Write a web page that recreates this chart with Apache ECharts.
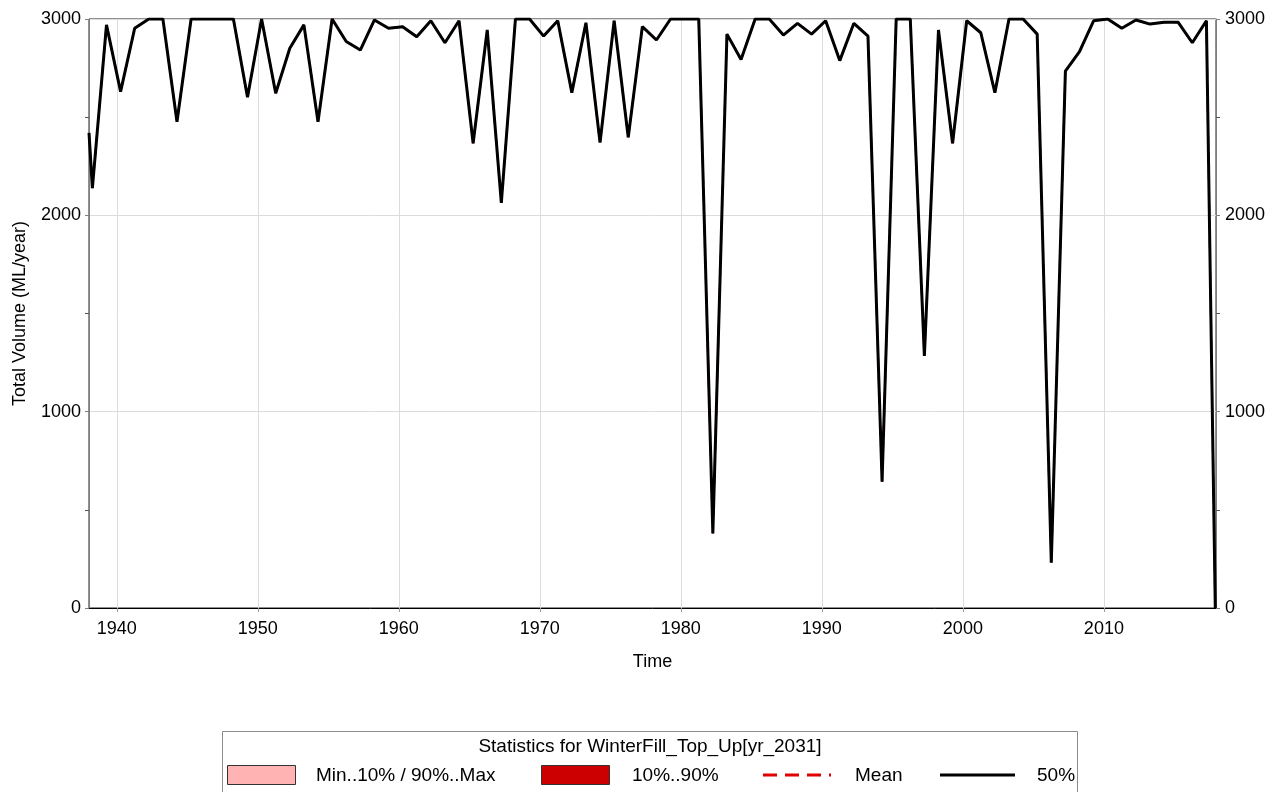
<!DOCTYPE html>
<html>
<head>
<meta charset="utf-8">
<title>WinterFill_Top_Up</title>
<script src="https://cdn.jsdelivr.net/npm/echarts@6/dist/echarts.min.js"></script>
<style>
  html, body { margin: 0; padding: 0; background: #fff; }
  #chart { width: 1279px; height: 792px; }
</style>
</head>
<body>
<div id="chart"></div>
<script>
// Annual totals, one value per year (ML/year)
const years = [
  1938, 1939, 1940, 1941, 1942, 1943, 1944, 1945, 1946, 1947,
  1948, 1949, 1950, 1951, 1952, 1953, 1954, 1955, 1956, 1957,
  1958, 1959, 1960, 1961, 1962, 1963, 1964, 1965, 1966, 1967,
  1968, 1969, 1970, 1971, 1972, 1973, 1974, 1975, 1976, 1977,
  1978, 1979, 1980, 1981, 1982, 1983, 1984, 1985, 1986, 1987,
  1988, 1989, 1990, 1991, 1992, 1993, 1994, 1995, 1996, 1997,
  1998, 1999, 2000, 2001, 2002, 2003, 2004, 2005, 2006, 2007,
  2008, 2009, 2010, 2011, 2012, 2013, 2014, 2015, 2016, 2017
];
const median50 = [
  2138, 2970, 2630, 2953, 3000, 3000, 2477, 3000, 3000, 3000,
  3000, 2601, 3000, 2622, 2851, 2970, 2477, 3000, 2885, 2842,
  2995, 2953, 2961, 2910, 2991, 2879, 2991, 2367, 2944, 2064,
  3000, 3000, 2913, 2991, 2625, 2981, 2370, 2991, 2397, 2961,
  2893, 3000, 3000, 3000, 380, 2923, 2794, 3000, 3000, 2918,
  2978, 2923, 2991, 2788, 2978, 2913, 643, 3000, 3000, 1284,
  2944, 2367, 2991, 2930, 2625, 3000, 3000, 2923, 231, 2735,
  2834, 2991, 3000, 2953, 2995, 2974, 2983, 2983, 2879, 2991
];
// series start / end values (partial years at either end)
const startPoint = [1938.03, 2420];
const endPoint = [2017.9, 0];

const decadeTicks = [1940, 1950, 1960, 1970, 1980, 1990, 2000, 2010];

// each annual total is stamped in early April of its year
const SAMPLE_OFFSET = 0.27;

const lineData = [startPoint]
  .concat(years.map((y, i) => [y + SAMPLE_OFFSET, median50[i]]))
  .concat([endPoint]);

const FONT = '"Liberation Sans", Arial, sans-serif';
const plain = v => String(v);

const chart = echarts.init(document.getElementById('chart'), null, { renderer: 'canvas' });

const yAxisCommon = {
  type: 'value',
  min: 0,
  max: 3000,
  interval: 1000,
  axisLine: { show: true, lineStyle: { color: '#7f7f7f', width: 1 } },
  axisTick: { show: true, length: 4, lineStyle: { color: '#7f7f7f' } },
  minorTick: { show: true, splitNumber: 2, length: 4, lineStyle: { color: '#555' } },
  axisLabel: { color: '#000', fontSize: 18, fontFamily: FONT, formatter: plain }
};

const option = {
  animation: false,
  backgroundColor: '#ffffff',
  grid: {
    left: 89, right: 63, top: 19, bottom: 184,
    show: true, borderColor: '#222', borderWidth: 1, backgroundColor: 'transparent'
  },
  xAxis: {
    type: 'value',
    min: 1938.03,
    max: 2017.95,
    name: 'Time',
    nameLocation: 'middle',
    nameGap: 45,
    nameTextStyle: { color: '#000', fontSize: 18, fontFamily: FONT },
    axisLine: { show: true, onZero: false, lineStyle: { color: '#000', width: 1 } },
    axisTick: { show: true, length: 4, customValues: decadeTicks, lineStyle: { color: '#999' } },
    axisLabel: { customValues: decadeTicks, color: '#000', fontSize: 18, fontFamily: FONT, margin: 12, formatter: plain },
    splitLine: { show: true, lineStyle: { color: '#dcdcdc', width: 1 } }
  },
  yAxis: [
    Object.assign({}, yAxisCommon, {
      position: 'left',
      name: 'Total Volume (ML/year)',
      nameLocation: 'middle',
      nameGap: 60,
      nameTextStyle: { color: '#000', fontSize: 18, fontFamily: FONT },
      axisLabel: Object.assign({}, yAxisCommon.axisLabel, { margin: 8 }),
      splitLine: { show: true, lineStyle: { color: '#dcdcdc', width: 1 } }
    }),
    Object.assign({}, yAxisCommon, {
      position: 'right',
      axisLabel: Object.assign({}, yAxisCommon.axisLabel, { margin: 9 }),
      splitLine: { show: false }
    })
  ],
  series: [
    {
      name: 'Mean',
      type: 'line',
      data: lineData,
      showSymbol: false,
      z: 2,
      lineStyle: { color: '#e00000', width: 2, type: [10, 7] }
    },
    {
      name: '50%',
      type: 'line',
      data: lineData,
      showSymbol: false,
      z: 3,
      lineStyle: { color: '#000', width: 3, join: 'bevel' }
    }
  ],
  graphic: [
    { type: 'rect', shape: { x: 222.5, y: 731.5, width: 855, height: 70 },
      style: { fill: '#fff', stroke: '#8c8c8c', lineWidth: 1 } },
    { type: 'text', x: 650, y: 747,
      style: { text: 'Statistics for WinterFill_Top_Up[yr_2031]', fill: '#000',
               font: '19px ' + FONT, align: 'center', verticalAlign: 'middle' } },
    { type: 'rect', shape: { x: 227.5, y: 765.5, width: 68, height: 19 },
      style: { fill: '#ffb3b3', stroke: '#333', lineWidth: 1 } },
    { type: 'text', x: 316, y: 776,
      style: { text: 'Min..10% / 90%..Max', fill: '#000', font: '19px ' + FONT, verticalAlign: 'middle' } },
    { type: 'rect', shape: { x: 541.5, y: 765.5, width: 68, height: 19 },
      style: { fill: '#cc0000', stroke: '#333', lineWidth: 1 } },
    { type: 'text', x: 632, y: 776,
      style: { text: '10%..90%', fill: '#000', font: '19px ' + FONT, verticalAlign: 'middle' } },
    { type: 'line', shape: { x1: 763, y1: 775, x2: 831, y2: 775 },
      style: { stroke: '#e00000', lineWidth: 3, lineDash: [14, 8] } },
    { type: 'text', x: 855, y: 776,
      style: { text: 'Mean', fill: '#000', font: '19px ' + FONT, verticalAlign: 'middle' } },
    { type: 'line', shape: { x1: 940, y1: 775, x2: 1015, y2: 775 },
      style: { stroke: '#000', lineWidth: 3 } },
    { type: 'text', x: 1037, y: 776,
      style: { text: '50%', fill: '#000', font: '19px ' + FONT, verticalAlign: 'middle' } }
  ]
};

chart.setOption(option);
</script>
</body>
</html>
